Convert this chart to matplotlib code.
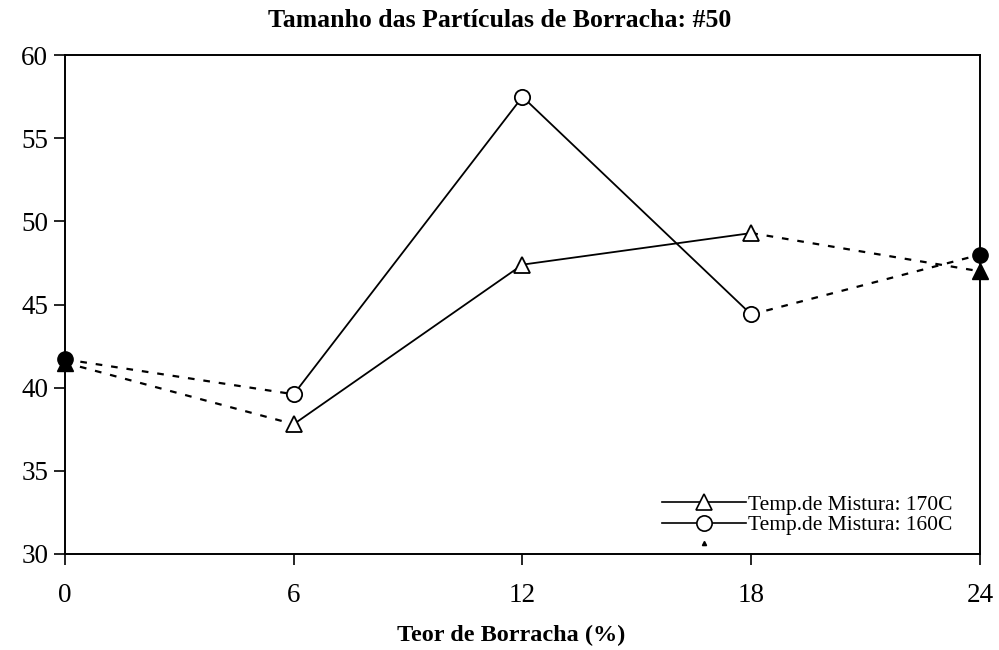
import numpy as np
import matplotlib.pyplot as plt
from matplotlib.lines import Line2D

# teor de borracha (%) e tamanho das particulas
teor = [0, 6, 12, 18, 24]
temp170 = [41.5, 37.8, 47.4, 49.3, 47.0]
temp160 = [41.7, 39.6, 57.5, 44.4, 48.0]
labels = ['Temp.de Mistura: 170C', 'Temp.de Mistura: 160C']

plt.rcParams['font.family'] = ['Liberation Serif', 'DejaVu Serif']

fig = plt.figure(figsize=(9.99, 6.5), dpi=100)
ax = fig.add_axes([0.065, 0.148, 0.916, 0.767])

x = np.array(teor)
series = [(np.array(temp170), '^'), (np.array(temp160), 'o')]
for ys, mk in series:
    # trechos medidos (linha cheia)
    ax.plot(x[1:4], ys[1:4], color='k', lw=1.3, marker=mk, ms=11,
            mfc='white', mec='k', mew=1.3, zorder=3)
    # extremos extrapolados (tracejado)
    for i, j in [(0, 1), (3, 4)]:
        ax.plot(x[[i, j]], ys[[i, j]], color='k', lw=1.6,
                dashes=(3, 4), zorder=2)
    ax.plot(x[[0, 4]], ys[[0, 4]], ls='none', marker=mk, ms=11,
            mfc='k', mec='k', zorder=4, clip_on=False)

ax.set_xlim(0, 24)
ax.set_ylim(30, 60)
ax.set_xticks(teor)
ax.set_yticks(np.arange(30, 61, 5))
ax.tick_params(direction='out', length=8, width=1.2, labelsize=19.5, pad=13)
ax.tick_params(axis='y', pad=4)
for s in ax.spines.values():
    s.set_linewidth(1.4)

ax.set_title('Tamanho das Partículas de Borracha: #50', fontsize=18.5,
             fontweight='bold', pad=20, x=0.475)
ax.set_xlabel('Teor de Borracha (%)', fontsize=17.5, fontweight='bold',
              labelpad=12, x=0.488)

handles = [Line2D([], [], color='k', lw=1.2, marker='^', ms=11, mfc='white', mew=1.2),
           Line2D([], [], color='k', lw=1.2, marker='o', ms=11, mfc='white', mew=1.2),
           Line2D([], [], ls='none', marker='^', ms=3, color='k')]
ax.legend(handles, labels + [''], loc='lower right', frameon=False,
          fontsize=15.5, handlelength=3.9, handletextpad=0.1, labelspacing=0.02,
          borderaxespad=0.2, bbox_to_anchor=(0.984, -0.03))

plt.savefig('out.png', dpi=100)
